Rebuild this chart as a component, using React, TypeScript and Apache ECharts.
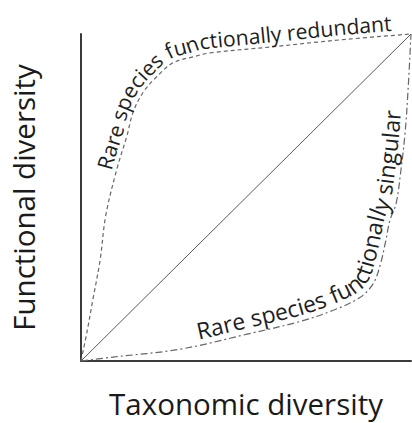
import React, { useEffect, useRef } from "react";
import * as echarts from "echarts";

// ---- data (unit scale 0..1 on both axes) ----
const diagonalX = [0, 1];
const diagonalY = [0, 1];

const redundantX = [0, 0.018, 0.036, 0.058, 0.075, 0.109, 0.139, 0.158, 0.188, 0.23, 0.279, 0.339, 0.391, 0.582, 0.785, 1];
const redundantY = [0, 0.088, 0.188, 0.309, 0.445, 0.588, 0.688, 0.761, 0.821, 0.87, 0.912, 0.93, 0.942, 0.961, 0.982, 1];

const singularX = [0, 0.097, 0.3, 0.503, 0.664, 0.764, 0.845, 0.885, 0.906, 0.924, 0.936, 0.955, 0.97, 0.982, 0.991, 1];
const singularY = [0, 0.012, 0.036, 0.082, 0.121, 0.155, 0.194, 0.236, 0.291, 0.37, 0.43, 0.482, 0.588, 0.697, 0.827, 1];

const xTitle = "Taxonomic diversity";
const yTitle = "Functional diversity";
const redundantLabel = "Rare species functionally redundant";
const singularLabel = "Rare species functionally singular";

// label anchors on the curves (data coords: where text starts / ends)
const redundantStart = [0.097, 0.582];
const redundantEnd = [0.94, 0.994];
const singularStart = [0.36, 0.042];
const singularEnd = [0.979, 0.764];

const FONT = '"Open Sans", "Noto Sans", sans-serif';

function catmull(points: number[][], samples: number) {
  const out: number[][] = [];
  const n = points.length;
  for (let i = 0; i < n - 1; i++) {
    const p0 = points[Math.max(0, i - 1)];
    const p1 = points[i];
    const p2 = points[i + 1];
    const p3 = points[Math.min(n - 1, i + 2)];
    for (let k = 0; k < samples; k++) {
      const t = k / samples;
      const t2 = t * t;
      const t3 = t2 * t;
      const f = (a: number, b: number, c: number, d: number) =>
        0.5 * (2 * b + (-a + c) * t + (2 * a - 5 * b + 4 * c - d) * t2 + (-a + 3 * b - 3 * c + d) * t3);
      out.push([f(p0[0], p1[0], p2[0], p3[0]), f(p0[1], p1[1], p2[1], p3[1])]);
    }
  }
  out.push(points[n - 1]);
  return out;
}

function layoutLabel(
  chart: any,
  xs: number[],
  ys: number[],
  text: string,
  startD: number[],
  endD: number[],
  gap: number,
  color: string,
  ctx: CanvasRenderingContext2D
) {
  const pts = xs.map((x, i) => chart.convertToPixel({ gridIndex: 0 }, [x, ys[i]]) as number[]);
  const dense = catmull(pts, 24);
  const m = dense.length;
  const tangents = dense.map((_, i) => {
    const a = dense[Math.max(0, i - 2)];
    const b = dense[Math.min(m - 1, i + 2)];
    const tx = b[0] - a[0];
    const ty = b[1] - a[1];
    const l = Math.hypot(tx, ty) || 1;
    return [tx / l, ty / l];
  });
  const base = dense.map((p, i) => [p[0] + tangents[i][1] * gap, p[1] - tangents[i][0] * gap]);
  const cum = [0];
  for (let i = 1; i < m; i++) cum.push(cum[i - 1] + Math.hypot(base[i][0] - base[i - 1][0], base[i][1] - base[i - 1][1]));
  const nearest = (d: number[]) => {
    const p = chart.convertToPixel({ gridIndex: 0 }, d) as number[];
    let best = 0;
    let bd = Infinity;
    dense.forEach((q, i) => {
      const dd = (q[0] - p[0]) ** 2 + (q[1] - p[1]) ** 2;
      if (dd < bd) {
        bd = dd;
        best = i;
      }
    });
    return cum[best];
  };
  const s0 = nearest(startD);
  const s1 = nearest(endD);
  ctx.font = `100px ${FONT}`;
  const w100 = ctx.measureText(text).width;
  const fs = ((s1 - s0) / w100) * 100;
  const scale = fs / 100;
  const at = (s: number) => {
    let i = 1;
    while (i < m - 1 && cum[i] < s) i++;
    const seg = cum[i] - cum[i - 1] || 1;
    const u = Math.max(0, Math.min(1, (s - cum[i - 1]) / seg));
    const p = [base[i - 1][0] + (base[i][0] - base[i - 1][0]) * u, base[i - 1][1] + (base[i][1] - base[i - 1][1]) * u];
    const t0 = tangents[i - 1];
    const t1 = tangents[i];
    const tx = t0[0] + (t1[0] - t0[0]) * u;
    const ty = t0[1] + (t1[1] - t0[1]) * u;
    const l = Math.hypot(tx, ty) || 1;
    return { p, tx: tx / l, ty: ty / l };
  };
  const els: any[] = [];
  for (let i = 0; i < text.length; i++) {
    const ch = text[i];
    if (ch === " ") continue;
    const x0 = ctx.measureText(text.slice(0, i)).width * scale;
    const w = ctx.measureText(ch).width * scale;
    const { p, tx, ty } = at(s0 + x0 + w / 2);
    const lift = 0.38 * fs;
    els.push({
      type: "text",
      x: p[0] + ty * lift,
      y: p[1] - tx * lift,
      rotation: Math.atan2(-ty, tx),
      silent: true,
      z: 10,
      style: {
        text: ch,
        fontFamily: '"Open Sans"',
        fontSize: fs,
        fill: color,
        align: "center",
        verticalAlign: "middle",
        textAlign: "center",
        textVerticalAlign: "middle",
      },
    });
  }
  return els;
}

export default function App() {
  const ref = useRef<HTMLDivElement>(null);
  useEffect(() => {
    document.body.style.margin = "0";
    const el = ref.current!;
    const chart = echarts.init(el, undefined, { renderer: "svg" });
    const axisCommon = {
      type: "value",
      min: 0,
      max: 1,
      nameLocation: "middle",
      nameTextStyle: { fontFamily: '"Open Sans"', fontSize: 29.5, color: "#1a1a1a" },
      axisLine: { show: true, onZero: false, lineStyle: { color: "#3a3a3a", width: 2 } },
      axisTick: { show: false },
      axisLabel: { show: false },
      splitLine: { show: false },
    };
    chart.setOption({
      animation: false,
      grid: { left: 81, top: 34, width: 330, height: 330, containLabel: false },
      xAxis: { ...axisCommon, name: xTitle, nameGap: 27 },
      yAxis: { ...axisCommon, name: yTitle, nameGap: 42.5 },
      series: [
        {
          type: "line",
          data: diagonalX.map((x, i) => [x, diagonalY[i]]),
          showSymbol: false,
          clip: false,
          silent: true,
          lineStyle: { color: "#5a5a5a", width: 1 },
        },
        {
          type: "line",
          data: redundantX.map((x, i) => [x, redundantY[i]]),
          showSymbol: false,
          smooth: 0.35,
          clip: false,
          silent: true,
          lineStyle: { color: "#666666", width: 1.2, type: [4, 3] },
        },
        {
          type: "line",
          data: singularX.map((x, i) => [x, singularY[i]]),
          showSymbol: false,
          smooth: 0.35,
          clip: false,
          silent: true,
          lineStyle: { color: "#666666", width: 1.2, type: [7, 3, 2, 3] },
        },
      ],
    });
    const canvas = document.createElement("canvas");
    const ctx = canvas.getContext("2d")!;
    const elements = [
      ...layoutLabel(chart, redundantX, redundantY, redundantLabel, redundantStart, redundantEnd, 5, "#1e1e1e", ctx),
      ...layoutLabel(chart, singularX, singularY, singularLabel, singularStart, singularEnd, 6, "#1e1e1e", ctx),
    ];
    chart.setOption({ graphic: { elements } });
    return () => chart.dispose();
  }, []);
  return <div ref={ref} style={{ width: 412, height: 423 }} />;
}
